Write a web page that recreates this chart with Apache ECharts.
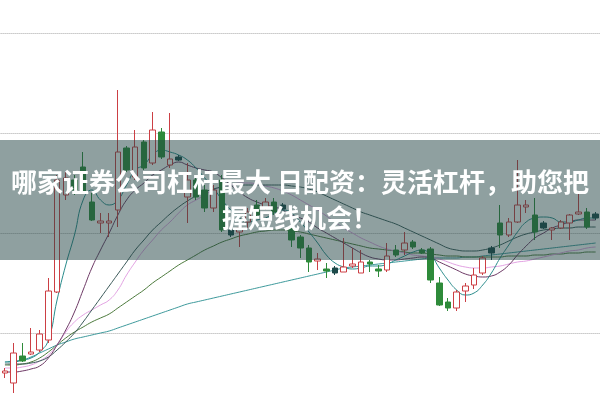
<!DOCTYPE html>
<html><head><meta charset="utf-8">
<script src="https://cdn.jsdelivr.net/npm/echarts@6/dist/echarts.min.js"></script>
<style>html,body{margin:0;padding:0;background:#fff}#c{width:600px;height:400px}</style>
</head><body><div id="c"></div>
<script>
var categories = ['1','2','3','4','5','6','7','8','9','10','11','12','13','14','15','16','17','18','19','20','21','22','23','24','25','26','27','28','29','30','31','32','33','34','35','36','37','38','39','40','41','42','43','44','45','46','47','48','49','50','51','52','53','54','55','56','57','58','59','60','61','62','63','64','65','66','67','68','69'];
var openV  = [9.20,9.00,9.54,9.58,9.66,9.86,10.82,12.76,13.06,13.32,12.62,12.20,12.20,12.46,13.70,13.12,13.82,13.40,14.02,13.36,13.52,12.72,13.06,12.86,12.50,13.06,12.06,12.02,12.22,12.56,12.50,12.62,12.56,12.12,11.92,11.70,11.44,11.28,11.30,11.22,11.34,11.20,11.42,11.28,11.26,11.66,11.66,11.82,11.66,11.68,11.00,10.62,10.50,10.84,10.96,11.20,11.60,12.20,11.96,12.22,12.52,12.36,12.20,12.06,12.10,12.20,12.38,12.42,12.38];
var closeV = [9.24,9.60,9.44,9.62,9.98,10.84,13.06,13.10,12.86,12.82,12.26,12.24,12.24,13.62,13.26,13.72,13.30,14.06,13.52,13.48,13.46,13.06,12.72,12.50,12.86,12.06,11.96,12.10,12.42,12.36,12.62,12.42,12.48,11.86,11.70,11.42,11.48,11.24,11.20,11.32,11.38,11.42,11.38,11.24,11.54,11.56,11.80,11.72,11.60,11.06,10.56,10.50,10.82,10.94,11.16,11.50,11.70,11.96,12.22,12.56,12.56,12.02,12.10,12.10,12.22,12.36,12.42,12.12,12.30];
var lowV   = [9.10,8.80,9.42,9.56,9.62,9.80,10.80,12.66,12.76,12.80,12.24,12.00,11.92,12.12,13.22,13.06,13.26,13.36,13.48,13.30,13.44,12.20,12.66,12.42,12.42,12.02,11.92,11.72,12.10,12.30,12.46,12.36,12.46,11.72,11.50,11.22,11.26,11.10,11.16,11.22,11.30,11.20,11.22,11.12,11.22,11.52,11.56,11.68,11.58,11.00,10.54,10.44,10.44,10.62,10.88,11.16,11.46,11.70,11.92,12.20,12.40,11.86,12.08,11.86,12.08,11.86,12.36,12.08,12.26];
var highV  = [9.30,9.80,9.80,10.10,10.06,11.10,13.16,13.22,13.16,13.62,12.80,12.40,12.40,14.86,13.74,14.06,13.86,14.42,14.10,14.40,13.56,13.40,13.10,12.96,12.96,13.16,12.10,12.16,12.50,12.66,12.70,12.70,12.60,12.16,11.96,11.76,11.60,11.40,11.34,11.90,11.70,11.66,11.46,11.36,11.80,11.76,12.02,11.86,11.70,11.72,11.12,10.70,10.86,11.00,11.30,11.54,11.74,12.56,12.30,13.46,12.66,12.70,12.24,12.12,12.26,12.38,12.82,12.50,12.42];
var ma5  = [9.42,9.42,9.46,9.50,9.62,9.86,10.66,11.36,11.96,12.66,12.86,12.66,12.56,12.66,12.96,13.26,13.36,13.56,13.66,13.62,13.56,13.46,13.30,13.10,12.90,12.66,12.46,12.30,12.22,12.26,12.30,12.40,12.46,12.40,12.22,12.02,11.80,11.56,11.40,11.32,11.28,11.30,11.34,11.34,11.38,11.46,11.54,11.62,11.66,11.56,11.30,11.06,10.86,10.76,10.80,10.96,11.20,11.50,11.76,12.02,12.22,12.30,12.32,12.30,12.22,12.22,12.26,12.30,12.30];
var ma10 = [9.22,9.22,9.24,9.28,9.34,9.50,9.76,10.06,10.42,10.86,11.30,11.66,12.00,12.36,12.66,12.86,13.00,13.16,13.26,13.36,13.42,13.36,13.30,13.26,13.22,13.10,12.96,12.82,12.70,12.62,12.56,12.52,12.46,12.36,12.30,12.22,12.10,12.00,11.90,11.80,11.70,11.60,11.52,11.48,11.46,11.46,11.48,11.50,11.52,11.50,11.42,11.34,11.26,11.18,11.14,11.12,11.14,11.22,11.36,11.56,11.74,11.90,12.00,12.10,12.16,12.22,12.26,12.26,12.26];
var ma20 = [9.38,9.38,9.38,9.40,9.44,9.52,9.66,9.82,10.00,10.22,10.46,10.70,10.94,11.18,11.42,11.66,11.86,12.06,12.22,12.38,12.52,12.64,12.74,12.82,12.88,12.92,12.94,12.96,12.96,12.96,12.96,12.96,12.96,12.94,12.92,12.88,12.82,12.74,12.66,12.58,12.50,12.42,12.36,12.30,12.24,12.18,12.10,12.02,11.94,11.86,11.78,11.70,11.66,11.64,11.64,11.66,11.70,11.76,11.84,11.92,11.98,12.02,12.06,12.08,12.10,12.10,12.12,12.12,12.12];
var ma30 = [9.30,9.30,9.32,9.36,9.44,9.56,9.76,10.02,10.22,10.36,10.46,10.56,10.66,10.86,11.16,11.42,11.66,11.86,12.06,12.22,12.40,12.56,12.66,12.76,12.86,12.92,12.96,13.00,13.00,12.98,12.94,12.90,12.84,12.76,12.66,12.56,12.46,12.34,12.22,12.10,12.00,11.90,11.82,11.74,11.68,11.64,11.60,11.56,11.54,11.52,11.48,11.42,11.36,11.32,11.30,11.30,11.32,11.34,11.38,11.42,11.44,11.48,11.52,11.56,11.60,11.64,11.66,11.70,11.72];
var ma60 = [9.36,9.36,9.38,9.42,9.50,9.62,9.76,9.90,10.02,10.12,10.22,10.30,10.38,10.50,10.62,10.74,10.86,11.00,11.12,11.24,11.36,11.46,11.56,11.66,11.74,11.82,11.88,11.94,11.98,12.02,12.04,12.06,12.06,12.04,12.02,11.98,11.94,11.90,11.86,11.82,11.78,11.74,11.70,11.68,11.66,11.64,11.62,11.60,11.60,11.58,11.56,11.54,11.54,11.52,11.52,11.52,11.52,11.52,11.54,11.54,11.54,11.56,11.56,11.58,11.58,11.60,11.60,11.62,11.62];
var ma120 = [9.42,9.44,9.46,9.52,9.60,9.68,9.76,9.82,9.88,9.92,9.96,10.00,10.04,10.10,10.16,10.22,10.28,10.34,10.40,10.46,10.52,10.58,10.62,10.66,10.70,10.74,10.78,10.82,10.86,10.90,10.94,10.98,11.02,11.06,11.10,11.14,11.18,11.22,11.26,11.30,11.32,11.34,11.36,11.38,11.40,11.42,11.44,11.46,11.48,11.50,11.50,11.50,11.50,11.52,11.52,11.54,11.56,11.58,11.60,11.62,11.64,11.66,11.68,11.70,11.72,11.74,11.76,11.78,11.80];
var darkIdx = [20,26,32,38,56,62,68];
var titleLines = ['哪家证券公司杠杆最大 日配资：灵活杠杆，助您把','握短线机会！'];

var kdata = categories.map(function(c,i){
  var v = [openV[i], closeV[i], lowV[i], highV[i]];
  if (darkIdx.indexOf(i) >= 0) {
    return {value: v, itemStyle: {color:'#1d4a4a', color0:'#1d4a4a', borderColor:'#1d4a4a', borderColor0:'#1d4a4a'}};
  }
  return v;
});
function ln(name, data, color){
  return {name:name, type:'line', data:data, smooth:true, symbol:'none', clip:false,
    lineStyle:{color:color, width:1}, z:3, silent:true};
}
var chart = echarts.init(document.getElementById('c'), null, {renderer:'canvas'});
chart.setOption({
  animation:false,
  backgroundColor:'#fff',
  grid:{left:0.6, right:-4.8, top:33, bottom:67},
  xAxis:{type:'category', data:categories, boundaryGap:true, show:true,
    axisLine:{show:false}, axisTick:{show:false}, axisLabel:{show:false}, splitLine:{show:false}},
  yAxis:{type:'value', min:10, max:16, interval:2, scale:true,
    axisLine:{show:false}, axisTick:{show:false}, axisLabel:{show:false},
    splitLine:{show:true, lineStyle:{color:'#a8a8a8', type:'dotted', width:1}}},
  series:[
    {type:'candlestick', data:kdata, barWidth:6, clip:false, z:4,
     itemStyle:{color:'#ffffff', color0:'#2e8b3a', borderColor:'#cc3f44', borderColor0:'#2e8b3a', borderWidth:1}},
    ln('MA120', ma120, '#3e9a9c'),
    ln('MA60', ma60, '#4c7a3c'),
    ln('MA30', ma30, '#e3a2e3'),
    ln('MA20', ma20, '#3c5a5a'),
    ln('MA10', ma10, '#6e3a66'),
    ln('MA5', ma5, '#2a8c8c')
  ],
  graphic:[
    {type:'rect', shape:{x:0, y:140, width:600, height:120}, style:{fill:'rgba(31,65,65,0.5)'}, z:100, silent:true},
    {type:'text', x:300, y:164, z:101, silent:true,
     style:{text:titleLines.join('\n'), fill:'#ffffff', textAlign:'center', textVerticalAlign:'top',
       font:'bold 26px "Noto Sans CJK SC", "Noto Sans", sans-serif', lineHeight:36}}
  ]
});
</script></body></html>
